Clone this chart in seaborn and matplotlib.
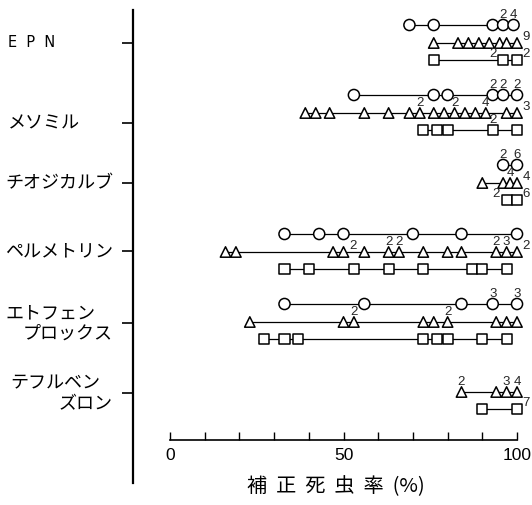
import matplotlib
matplotlib.use("Agg")
import matplotlib.pyplot as plt
import matplotlib.transforms as mtransforms
import pandas as pd
import seaborn as sns

# ---------------------------------------------------------------- data
categories = ["EPN", "メソミル", "チオジカルブ", "ペルメトリン",
              "エトフェンプロックス", "テフルベンズロン"]

# corrected mortality (%) of each population; *_counts = number of
# populations sharing that value (1 = single, no label)
circle_values = {
    "EPN": [69, 76, 93, 96, 99],
    "メソミル": [53, 76, 80, 93, 96, 100],
    "チオジカルブ": [96, 100],
    "ペルメトリン": [33, 43, 50, 70, 84, 100],
    "エトフェンプロックス": [33, 56, 84, 93, 100],
}
circle_counts = {
    "EPN": [1, 1, 1, 2, 4],
    "メソミル": [1, 1, 1, 2, 2, 2],
    "チオジカルブ": [2, 6],
    "ペルメトリン": [1, 1, 1, 1, 1, 1],
    "エトフェンプロックス": [1, 1, 1, 3, 3],
}

triangle_values = {
    "EPN": [76, 83, 86, 89, 92, 95, 97, 100],
    "メソミル": [39, 42, 46, 56, 63, 69, 72, 76, 79, 82, 85, 88, 91, 97, 100],
    "チオジカルブ": [90, 96, 98, 100],
    "ペルメトリン": [16, 19, 47, 50, 56, 63, 66, 73, 80, 84, 94, 97, 100],
    "エトフェンプロックス": [23, 50, 53, 73, 76, 80, 94, 97, 100],
    "テフルベンズロン": [84, 94, 97, 100],
}
triangle_counts = {
    "EPN": [1, 1, 1, 1, 1, 1, 1, 9],
    "メソミル": [1, 1, 1, 1, 1, 1, 2, 1, 1, 2, 1, 1, 4, 1, 3],
    "チオジカルブ": [1, 1, 4, 4],
    "ペルメトリン": [1, 1, 1, 2, 1, 2, 2, 1, 1, 1, 2, 3, 2],
    "エトフェンプロックス": [1, 1, 2, 1, 1, 2, 1, 1, 1],
    "テフルベンズロン": [2, 1, 3, 4],
}

square_values = {
    "EPN": [76, 96, 100],
    "メソミル": [73, 77, 80, 93, 100],
    "チオジカルブ": [97, 100],
    "ペルメトリン": [33, 40, 53, 63, 73, 87, 90, 97],
    "エトフェンプロックス": [27, 33, 37, 73, 77, 80, 90, 97],
    "テフルベンズロン": [90, 100],
}
square_counts = {
    "EPN": [1, 2, 2],
    "メソミル": [1, 1, 1, 2, 1],
    "チオジカルブ": [2, 6],
    "ペルメトリン": [1, 1, 1, 1, 1, 1, 1, 1],
    "エトフェンプロックス": [1, 1, 1, 1, 1, 1, 1, 1],
    "テフルベンズロン": [1, 7],
}

x_ticks = list(range(0, 101, 10))
x_ticklabels = ["0" if t == 0 else "50" if t == 50 else "100" if t == 100 else ""
                for t in x_ticks]
x_label = "補  正  死  虫  率  (%)"

# ---------------------------------------------------------------- layout
# vertical coordinate runs top-down (y axis inverted)
row_center = {"EPN": 43, "メソミル": 113, "チオジカルブ": 183,
              "ペルメトリン": 252, "エトフェンプロックス": 322,
              "テフルベンズロン": 392}
cat_tick = {"EPN": 43, "メソミル": 123, "チオジカルブ": 183,
            "ペルメトリン": 251, "エトフェンプロックス": 323,
            "テフルベンズロン": 393}
series_offset = {"circle": -18, "triangle": 0, "square": 17}
marker_map = {"circle": "o", "triangle": "^", "square": "s"}
size_map = {"circle": 64, "triangle": 56, "square": 54}

# count labels placed beside the marker instead of above it
label_side = {
    ("EPN", "triangle", 100): "ur",
    ("EPN", "square", 96): "ul",
    ("EPN", "square", 100): "ur",
    ("メソミル", "triangle", 100): "ur",
    ("チオジカルブ", "triangle", 100): "ur",
    ("チオジカルブ", "square", 97): "ul",
    ("チオジカルブ", "square", 100): "ur",
    ("ペルメトリン", "triangle", 50): "ur",
    ("ペルメトリン", "triangle", 100): "ur",
    ("テフルベンズロン", "square", 100): "ur",
}

rows = []
for series, vals, cnts in [("circle", circle_values, circle_counts),
                           ("triangle", triangle_values, triangle_counts),
                           ("square", square_values, square_counts)]:
    for cat in categories:
        if cat not in vals:
            continue
        for v, n in zip(vals[cat], cnts[cat]):
            rows.append({"category": cat, "series": series, "value": v, "n": n})
df = pd.DataFrame(rows)
df["y"] = df["category"].map(row_center) + df["series"].map(series_offset)
df["row"] = df["category"] + "/" + df["series"]

# ---------------------------------------------------------------- fonts
sns.set_style("white")
JP = ["Noto Sans CJK JP", "DejaVu Sans"]
NUM = ["Liberation Sans", "DejaVu Sans"]
plt.rcParams["font.family"] = JP

# ---------------------------------------------------------------- figure
W, H = 532, 505
fig = plt.figure(figsize=(W / 100, H / 100), dpi=100)
fig.patch.set_facecolor("white")
ax = fig.add_axes([133 / W, 1 - 483 / H, (520 - 133) / W, (483 - 10) / H])
ax.set_facecolor("white")

sns.lineplot(data=df, x="value", y="y", units="row", estimator=None,
             color="black", linewidth=0.9, sort=True, legend=False, ax=ax)
sns.scatterplot(data=df, x="value", y="y", style="series", markers=marker_map,
                size="series", sizes=size_map, color="white",
                edgecolor="black", linewidth=1.1, legend=False, zorder=3, ax=ax)
for artist in list(ax.lines) + list(ax.collections):
    artist.set_clip_on(False)

ax.set_xlim(-10.66, 100.86)
ax.set_ylim(483, 10)

# count labels
offsets = {"top": ((0, 5.0), "center"),
           "ur": ((4.0, 2.5), "left"),
           "ul": ((-5.0, 2.0), "right")}
for r in df.itertuples():
    if r.n > 1:
        side = label_side.get((r.category, r.series, r.value), "top")
        (dx, dy), ha = offsets[side]
        ax.annotate(str(r.n), (r.value, r.y), xytext=(dx, dy),
                    textcoords="offset points", ha=ha, va="baseline",
                    fontsize=9.5, family=NUM, zorder=4, annotation_clip=False)

# axes styling
for s in ("top", "right"):
    ax.spines[s].set_visible(False)
ax.spines["left"].set_linewidth(1.6)
ax.spines["left"].set_color("black")
ax.spines["bottom"].set_position(("data", 440))
ax.spines["bottom"].set_bounds(0, 100)
ax.spines["bottom"].set_linewidth(1.2)
ax.spines["bottom"].set_color("black")

ax.set_xticks(x_ticks)
ax.set_xticklabels(x_ticklabels, fontsize=12.5, family=NUM)
ax.tick_params(axis="x", bottom=True, direction="in", length=6, width=1.0,
               pad=6, colors="black")
ax.set_yticks([cat_tick[c] for c in categories])
ax.set_yticklabels([])
ax.tick_params(axis="y", left=True, direction="out", length=8, width=1.2,
               colors="black")
ax.set_xlabel("")
ax.set_ylabel("")

# category names
tr = mtransforms.blended_transform_factory(fig.transFigure, ax.transData)
single = {"EPN": ("E  P  N", 8), "メソミル": ("メソミル", 8),
          "チオジカルブ": ("チオジカルブ", 5), "ペルメトリン": ("ペルメトリン", 5)}
for cat, (txt, x0) in single.items():
    fam = ["DejaVu Sans"] if cat == "EPN" else JP
    fs = 10.5 if cat == "EPN" else 13
    ax.text(x0 / W, cat_tick[cat], txt, transform=tr, ha="left", va="center",
            fontsize=fs, family=fam, color="black")
double = {"エトフェンプロックス": ("エトフェン", "プロックス", 5),
          "テフルベンズロン": ("テフルベン", "ズロン", 10)}
for cat, (l1, l2, x0) in double.items():
    ax.text(x0 / W, cat_tick[cat] - 10, l1, transform=tr, ha="left",
            va="center", fontsize=13, color="black")
    ax.text(113 / W, cat_tick[cat] + 11, l2, transform=tr, ha="right",
            va="center", fontsize=13, color="black")

fig.text(336 / W, 1 - 487 / H, x_label, ha="center", va="center",
         fontsize=14.5, color="black")

fig.savefig("out.png", dpi=100, facecolor="white")
